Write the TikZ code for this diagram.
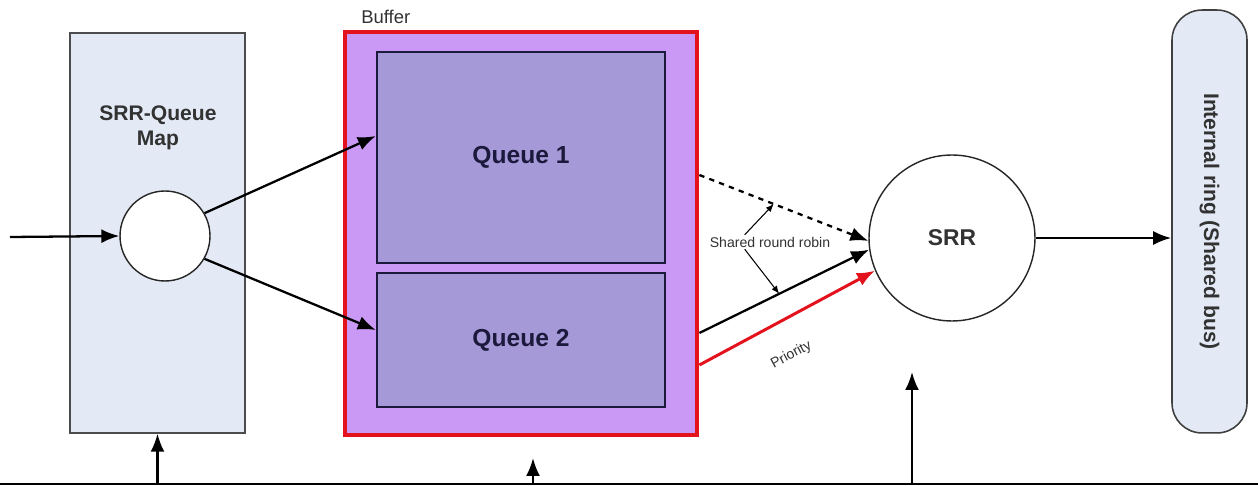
\documentclass[tikz,border=0pt]{standalone}
\usepackage{fontspec}
\setmainfont{Liberation Sans}
\usepackage{tikz}
\usetikzlibrary{arrows.meta,positioning,calc}
\definecolor{mapfill}{RGB}{228,234,245}
\definecolor{buffill}{RGB}{202,152,245}
\definecolor{bufred}{RGB}{228,18,28}
\definecolor{qfill}{RGB}{166,153,216}
\definecolor{qline}{RGB}{28,26,60}
\definecolor{txt}{RGB}{50,50,50}
\tikzset{
  pil/.style={-{Latex[length=3.6mm,width=2.8mm]},line width=1.3pt},
  klein/.style={-{Latex[length=1.6mm,width=1.3mm]},line width=0.6pt},
  mapbox/.style={draw=black!70,fill=mapfill,line width=0.8pt},
  queuebox/.style={draw=qline,fill=qfill,line width=1.4pt,minimum width=5.76cm,text=qline,font=\fontsize{14}{16}\selectfont\bfseries},
  knoten/.style={circle,draw=black!85,fill=white,line width=0.8pt,inner sep=0pt},
}

\begin{document}
\begin{tikzpicture}[x=0.02cm,y=-0.02cm]
\useasboundingbox[fill=white] (0,0) rectangle (1258,486);

\node[mapbox,minimum width=3.5cm,minimum height=8cm] (map) at (157.5,233) {};
\node[text=txt,align=center,font=\fontsize{12}{14}\selectfont\bfseries] (maptext) at (158,128) {SRR-Queue\\Map};
\node[knoten,minimum size=1.8cm] (dist) at (165,236) {};

\node[draw=bufred,fill=buffill,line width=2.8pt,minimum width=7.04cm,minimum height=8.06cm] (buffer) at (521,233.5) {};
\node[text=txt,font=\fontsize{10.5}{12}\selectfont,anchor=south west] (buflabel) at ([xshift=0.25cm]buffer.north west) {Buffer};
\node[queuebox,minimum height=4.22cm] (q1) at (521,157.5) {Queue 1};
\node[queuebox,minimum height=2.68cm] (q2) at (521,340) {Queue 2};

\node[knoten,minimum size=3.32cm,text=txt,font=\fontsize{13}{15}\selectfont\bfseries] (srr) at (952,238) {SRR};

\node[draw=black!75,fill=mapfill,line width=0.9pt,rounded corners=0.6cm,minimum width=1.5cm,minimum height=8.46cm] (ring) at (1209.5,221.5) {};
\node[rotate=-90,text=txt,font=\fontsize{12}{14}\selectfont\bfseries] (ringtext) at (ring.center) {Internal ring (Shared bus)};

\coordinate (ein) at (10,237);
\coordinate (bl) at (0,484);
\coordinate (br) at (1258,484);
\coordinate (mid) at (533,458);
\coordinate (midfuss) at (533,484);
\coordinate (srrfuss) at (912,484);
\coordinate (srrpfeil) at (912,372);

\draw[pil] (ein) -- (dist.west);
\draw[pil] (dist.30) -- ([yshift=0.43cm]q1.west);
\draw[pil] (dist.-30) -- ([yshift=0.2cm]q2.west);

\draw[pil,dashed] ([yshift=1.17cm]buffer.east) -- coordinate[pos=0.44] (d1) (srr.182);
\draw[pil] ([yshift=-1.99cm]buffer.east) -- coordinate[pos=0.47] (s1) (srr.188);
\draw[pil,bufred,line width=1.7pt] ([yshift=-2.63cm]buffer.east) -- node[pos=0.43,sloped,below=0.5cm,text=txt,font=\fontsize{8}{9}\selectfont,inner sep=1pt] (prio) {Priority} (srr.203);

\node[text=txt,font=\fontsize{8}{9}\selectfont,fill=white,inner sep=1pt] (srlabel) at (770,242) {Shared round robin};
\draw[klein] ([xshift=0.74cm]srlabel.north west) -- (d1);
\draw[klein] ([xshift=0.74cm]srlabel.south west) -- (s1);

\draw[pil] (srr.east) -- (srr.east -| ring.west);

\draw[line width=1.3pt] (bl) -- (br);
\draw[pil] (map.south |- bl) -- (map.south);
\draw[pil] (midfuss) -- (mid);
\draw[pil] (srrfuss) -- (srrpfeil);
\end{tikzpicture}
\end{document}
